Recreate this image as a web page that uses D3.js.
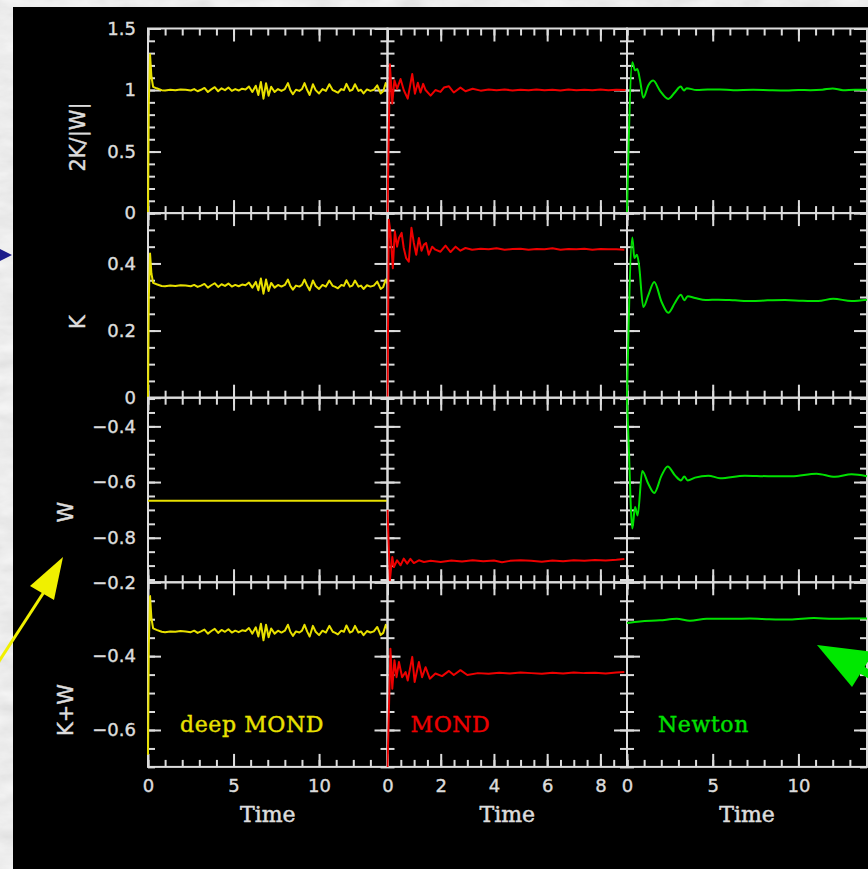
<!doctype html>
<html>
<head>
<meta charset="utf-8">
<script src="https://d3js.org/d3.v7.min.js"></script>
<style>
  body { margin:0; background:#d8d8d8; }
  svg { display:block; }
</style>
</head>
<body>
<svg id="chart" width="868" height="869"></svg>
<script>
// ---- deep MOND (yellow), one time axis shared by its curves
var dmTime = [0, 0.05, 0.12, 0.2, 0.3, 0.5, 0.8, 1.0, 1.3, 1.6, 1.9, 2.2, 2.5, 2.7, 2.9, 3.1, 3.3, 3.5, 3.7, 3.9,
  4.1, 4.3, 4.5, 4.7, 4.9, 5.1, 5.3, 5.5, 5.7, 5.9, 6.1, 6.3, 6.45, 6.6, 6.75, 6.9, 7.05,
  7.2, 7.4, 7.6, 7.8, 8.0, 8.18, 8.32, 8.47, 8.65, 8.85, 9.0, 9.15, 9.3, 9.45, 9.64, 9.8, 10.0, 10.2, 10.4, 10.6,
  10.8, 10.95, 11.1, 11.3, 11.45, 11.6, 11.8, 11.95, 12.1, 12.3, 12.45, 12.6, 12.8, 13.0, 13.2, 13.4, 13.6, 13.75,
  13.9, 14.0];
var dmRatio = [0, 0.90, 1.29, 1.11, 1.026, 1.014, 0.999, 0.996, 1.002, 0.999, 1.005, 1.002, 0.996, 1.008, 0.990,
  1.002, 1.017, 0.984, 1.005, 1.023, 0.990, 1.014, 0.999, 1.020, 0.993, 1.008, 0.996, 1.011, 1.005, 1.029,
  0.984, 1.035, 0.960, 1.065, 0.930, 1.056, 0.954,
  1.026, 0.984, 1.008, 0.993, 1.008, 1.056, 0.999, 0.966, 1.002, 0.993, 1.008, 1.056, 1.002, 0.960, 1.047, 0.999,
  0.972, 1.008, 0.993, 1.047, 0.999, 0.990, 0.978, 1.008, 0.999, 1.050, 0.993, 1.002, 1.047, 0.993, 1.002, 0.972,
  1.005, 0.993, 1.002, 1.038, 0.972, 0.990, 1.056, 1.020];
var dmK = [0, 0.30, 0.43, 0.37, 0.342, 0.338, 0.333, 0.332, 0.334, 0.333, 0.335, 0.334, 0.332, 0.336, 0.330,
  0.334, 0.339, 0.328, 0.335, 0.341, 0.330, 0.338, 0.333, 0.340, 0.331, 0.336, 0.332, 0.337, 0.335, 0.343,
  0.328, 0.345, 0.320, 0.355, 0.310, 0.352, 0.318,
  0.342, 0.328, 0.336, 0.331, 0.336, 0.352, 0.333, 0.322, 0.334, 0.331, 0.336, 0.352, 0.334, 0.320, 0.349, 0.333,
  0.324, 0.336, 0.331, 0.349, 0.333, 0.330, 0.326, 0.336, 0.333, 0.350, 0.331, 0.334, 0.349, 0.331, 0.334, 0.324,
  0.335, 0.331, 0.334, 0.346, 0.324, 0.330, 0.352, 0.340];
var dmWTime = [0, 14];
var dmW = [-0.667, -0.667];
var dmE = [-0.667, -0.367, -0.237, -0.297, -0.325, -0.329, -0.334, -0.335, -0.333, -0.334, -0.332, -0.333, -0.335, -0.331, -0.337,
  -0.333, -0.328, -0.339, -0.332, -0.326, -0.337, -0.329, -0.334, -0.327, -0.336, -0.331, -0.335, -0.330, -0.332, -0.324,
  -0.339, -0.322, -0.347, -0.312, -0.357, -0.315, -0.349,
  -0.325, -0.339, -0.331, -0.336, -0.331, -0.315, -0.334, -0.345, -0.333, -0.336, -0.331, -0.315, -0.333, -0.347,
  -0.318, -0.334, -0.343, -0.331, -0.336, -0.318, -0.334, -0.337, -0.341, -0.331, -0.334, -0.317, -0.336, -0.333,
  -0.318, -0.336, -0.333, -0.343, -0.332, -0.336, -0.333, -0.321, -0.343, -0.337, -0.315, -0.327];

// ---- MOND (red)
var mondRatioT = [0, 0.09, 0.18, 0.26, 0.36, 0.49, 0.61, 0.76, 0.93, 1.03, 1.14, 1.24, 1.34, 1.43, 1.62, 1.80, 1.99, 2.12,
  2.31, 2.49, 2.74, 2.93, 3.2, 3.5, 3.8, 4.1, 4.4, 4.7, 5.0, 5.3, 5.6, 5.9, 6.2, 6.5, 6.8, 7.1, 7.4, 7.7, 8.0, 8.3, 8.6, 8.95];
var mondRatio = [0, 1.21, 0.89, 1.08, 1.01, 1.09, 1.00, 0.93, 1.13, 0.97, 1.06, 0.98, 1.05, 1.00, 0.955, 1.00, 0.985, 1.02,
  1.03, 0.98, 1.02, 0.99, 1.01, 0.995, 1.005, 0.998, 1.004, 0.997, 1.003, 0.999, 1.005, 0.998, 1.002, 0.997, 1.004, 0.999,
  1.003, 0.998, 1.004, 0.999, 1.002, 1.000];
var mondKT = [0, 0.05, 0.1, 0.15, 0.2, 0.275, 0.36, 0.43, 0.53, 0.61, 0.70, 0.80, 0.90, 0.99, 1.08, 1.18, 1.28, 1.37, 1.45,
  1.55, 1.68, 1.80, 1.99, 2.18, 2.37, 2.56, 2.74, 2.93, 3.18, 3.5, 3.8, 4.1, 4.4, 4.7, 5.0, 5.3, 5.6, 5.9, 6.2, 6.5, 6.8,
  7.1, 7.4, 7.7, 8.0, 8.3, 8.6, 8.9];
var mondK = [0, 0.53, 0.50, 0.446, 0.386, 0.496, 0.450, 0.476, 0.491, 0.446, 0.416, 0.405, 0.506, 0.461, 0.426, 0.476,
  0.438, 0.456, 0.461, 0.426, 0.450, 0.441, 0.435, 0.453, 0.434, 0.450, 0.438, 0.446, 0.441, 0.444, 0.442, 0.445, 0.441,
  0.443, 0.444, 0.441, 0.443, 0.442, 0.445, 0.441, 0.443, 0.442, 0.444, 0.441, 0.443, 0.442, 0.442, 0.441];
var mondWT = [0, 0.09, 0.18, 0.24, 0.36, 0.49, 0.61, 0.74, 0.86, 0.99, 1.18, 1.37, 1.62, 2.0, 2.4, 2.8, 3.2, 3.6, 4.0,
  4.3, 4.6, 5.0, 5.4, 5.8, 6.2, 6.6, 7.0, 7.4, 7.8, 8.2, 8.6, 8.9];
var mondW = [-0.70, -0.953, -0.869, -0.905, -0.881, -0.899, -0.875, -0.893, -0.876, -0.891, -0.881, -0.887, -0.883,
  -0.887, -0.882, -0.885, -0.881, -0.884, -0.882, -0.888, -0.883, -0.881, -0.883, -0.886, -0.882, -0.884, -0.881,
  -0.883, -0.880, -0.882, -0.879, -0.876];
var mondET = [0, 0.11, 0.18, 0.26, 0.34, 0.43, 0.55, 0.68, 0.76, 0.93, 1.02, 1.18, 1.30, 1.43, 1.59, 1.80, 2.05, 2.31,
  2.49, 2.74, 3.0, 3.4, 3.8, 4.2, 4.6, 5.0, 5.4, 5.8, 6.2, 6.6, 7.0, 7.4, 7.8, 8.2, 8.6, 8.9];
var mondE = [-0.70, -0.380, -0.488, -0.411, -0.457, -0.416, -0.457, -0.443, -0.466, -0.402, -0.470, -0.416, -0.457,
  -0.430, -0.461, -0.447, -0.454, -0.440, -0.451, -0.438, -0.451, -0.446, -0.448, -0.445, -0.447, -0.444, -0.446,
  -0.448, -0.445, -0.447, -0.444, -0.446, -0.445, -0.447, -0.444, -0.443];

// ---- Newton (green)
var newtRatioT = [0, 0.31, 0.47, 0.60, 0.76, 0.95, 1.24, 1.53, 1.92, 2.41, 2.80, 3.13, 3.32, 3.48, 4.06, 4.7, 5.42,
  6.2, 7.36, 8.3, 9.3, 10.0, 10.7, 11.4, 12.0, 12.6, 13.3, 14.0];
var newtRatio = [0, 1.226, 1.16, 1.17, 1.08, 0.937, 1.037, 1.077, 0.996, 0.928, 0.982, 1.028, 0.996, 1.015, 1.0, 1.004,
  1.005, 0.998, 1.002, 0.999, 0.997, 1.001, 0.999, 1.003, 1.013, 0.999, 1.002, 1.002];
var newtKT = [0, 0.31, 0.43, 0.58, 0.70, 0.95, 1.24, 1.59, 2.02, 2.41, 2.80, 3.15, 3.34, 3.54, 3.97, 4.6, 5.32, 6.3,
  7.27, 8.2, 9.21, 10.2, 11.15, 12.03, 13.1, 14.0];
var newtK = [0, 0.477, 0.416, 0.426, 0.396, 0.270, 0.305, 0.345, 0.285, 0.253, 0.283, 0.307, 0.290, 0.302, 0.297,
  0.291, 0.292, 0.290, 0.288, 0.290, 0.291, 0.289, 0.288, 0.295, 0.288, 0.292];
var newtWT = [0, 0.12, 0.23, 0.31, 0.47, 0.62, 0.89, 1.24, 1.59, 2.02, 2.37, 2.80, 3.15, 3.34, 3.54, 3.97, 4.75, 5.43,
  6.88, 8.24, 9.60, 11.06, 12.13, 13.10, 14.0];
var newtW = [-0.30, -0.50, -0.70, -0.767, -0.690, -0.720, -0.560, -0.606, -0.639, -0.576, -0.544, -0.576, -0.594,
  -0.580, -0.594, -0.584, -0.577, -0.586, -0.577, -0.579, -0.579, -0.570, -0.581, -0.572, -0.579];
var newtET = [0, 0.76, 1.92, 2.9, 3.67, 4.65, 6.2, 7.17, 8.3, 9.5, 10.9, 12.03, 13.0, 14.0];
var newtE = [-0.310, -0.306, -0.303, -0.299, -0.304, -0.299, -0.299, -0.298, -0.300, -0.301, -0.297, -0.299, -0.298, -0.298];

// ---- panel labels and axes
var modelNames = ["deep MOND", "MOND", "Newton"];
var rowTitles = ["2K/|W|", "K", "W", "K+W"];
var timeMax = [14, 9, 14];
var xMajor = [[0, 5, 10], [0, 2, 4, 6, 8], [0, 5, 10]];
var xMinorStep = [1, 0.5, 1];
var rowDomains = [[0, 1.5], [0, 0.55], [-0.96, -0.297], [-0.7, -0.2]];
var yMajor = [[0, 0.5, 1, 1.5], [0, 0.2, 0.4], [-0.4, -0.6, -0.8], [-0.2, -0.4, -0.6]];
var yMinorStep = [0.1, 0.05, 0.05, 0.05];

var series = [
  [[dmTime, dmRatio], [mondRatioT, mondRatio], [newtRatioT, newtRatio]],
  [[dmTime, dmK], [mondKT, mondK], [newtKT, newtK]],
  [[dmWTime, dmW], [mondWT, mondW], [newtWT, newtW]],
  [[dmTime, dmE], [mondET, mondE], [newtET, newtE]]
];

var colors = ["#e8e000", "#ee0000", "#00e000"];
var axisColor = "#dcdcdc";
var colEdges = [148, 387.5, 627, 867];
var rowEdges = [28.5, 213.1, 397.7, 582.3, 766.9];
var titlePos = [[78, 137], [78, 322], [66, 512], [66, 710]];
var legendDx = [32, 23, 31];

var svg = d3.select("#chart");
var defs = svg.append("defs");

// marble slide background
var marble = defs.append("filter").attr("id", "marble")
  .attr("x", 0).attr("y", 0).attr("width", "100%").attr("height", "100%");
marble.append("feTurbulence").attr("type", "fractalNoise")
  .attr("baseFrequency", "0.03 0.07").attr("numOctaves", 4).attr("seed", 7);
marble.append("feColorMatrix").attr("type", "matrix")
  .attr("values", "0.12 0.12 0.12 0 0.66  0.12 0.12 0.12 0 0.66  0.12 0.12 0.12 0 0.66  0 0 0 0 1");
svg.append("rect").attr("width", 868).attr("height", 869).attr("filter", "url(#marble)");
svg.append("rect").attr("x", 13).attr("y", 7).attr("width", 855).attr("height", 862).attr("fill", "#000");

function ticksFrom(lo, hi, step) {
  var out = [];
  var start = Math.ceil(lo / step - 1e-6);
  for (var i = start; i * step <= hi + 1e-9; i++) out.push(+(i * step).toFixed(4));
  return out;
}
function fmt(d) { return d < 0 ? "\u2212" + Math.abs(d) : String(d); }

function styleTicks(sel) {
  sel.select(".domain").remove();
  sel.selectAll(".tick line").attr("stroke", axisColor).attr("stroke-width", 2);
}
function styleLabels(sel) {
  sel.select(".domain").remove();
  sel.attr("font-family", "DejaVu Sans").attr("font-size", 18).attr("color", axisColor);
  sel.selectAll("text").attr("stroke", axisColor).attr("stroke-width", 0.4);
}

rowTitles.forEach(function (title, r) {
  var y = d3.scaleLinear().domain(rowDomains[r]).range([rowEdges[r + 1], rowEdges[r]]);
  var yd = y.domain();
  var yMinor = ticksFrom(Math.min(yd[0], yd[1]), Math.max(yd[0], yd[1]), yMinorStep[r]);
  var yMaj = yMajor[r];

  modelNames.forEach(function (name, c) {
    var x = d3.scaleLinear().domain([0, timeMax[c]]).range([colEdges[c], colEdges[c + 1]]);
    var xMinor = ticksFrom(0, timeMax[c], xMinorStep[c]);
    var xMaj = xMajor[c];
    var left = colEdges[c], right = colEdges[c + 1], top = rowEdges[r], bottom = rowEdges[r + 1];
    var g = svg.append("g");

    // frame
    g.append("rect").attr("x", left).attr("y", top).attr("width", right - left).attr("height", bottom - top)
      .attr("fill", "none").attr("stroke", axisColor).attr("stroke-width", 2);

    // inward ticks on all four sides
    [[xMinor, 7], [xMaj, 13]].forEach(function (p) {
      g.append("g").attr("transform", "translate(0," + bottom + ")")
        .call(d3.axisBottom(x).tickValues(p[0]).tickSize(-p[1]).tickFormat("")).call(styleTicks);
      g.append("g").attr("transform", "translate(0," + top + ")")
        .call(d3.axisTop(x).tickValues(p[0]).tickSize(-p[1]).tickFormat("")).call(styleTicks);
    });
    [[yMinor, 7], [yMaj, 13]].forEach(function (p) {
      g.append("g").attr("transform", "translate(" + left + ",0)")
        .call(d3.axisLeft(y).tickValues(p[0]).tickSize(-p[1]).tickFormat("")).call(styleTicks);
      g.append("g").attr("transform", "translate(" + right + ",0)")
        .call(d3.axisRight(y).tickValues(p[0]).tickSize(-p[1]).tickFormat("")).call(styleTicks);
    });

    // tick labels on the outer panels
    if (c === 0) {
      g.append("g").attr("transform", "translate(" + left + ",0)")
        .call(d3.axisLeft(y).tickValues(yMaj).tickSize(0).tickPadding(12).tickFormat(fmt))
        .call(styleLabels);
    }
    if (r === rowTitles.length - 1) {
      g.append("g").attr("transform", "translate(0," + bottom + ")")
        .call(d3.axisBottom(x).tickValues(xMaj).tickSize(0).tickPadding(12).tickFormat(fmt))
        .call(styleLabels);
      g.append("text").attr("x", (left + right) / 2).attr("y", 822)
        .attr("text-anchor", "middle").attr("font-family", "DejaVu Serif").attr("font-size", 22)
        .attr("fill", axisColor).attr("stroke", axisColor).attr("stroke-width", 0.5).text("Time");
      g.append("text").attr("x", left + legendDx[c]).attr("y", 731.5)
        .attr("font-family", "DejaVu Serif").attr("font-size", 22).attr("letter-spacing", 0.6)
        .attr("fill", colors[c]).attr("stroke", colors[c]).attr("stroke-width", 0.4).text(name);
    }

    // curve
    var clipId = "clip-" + r + "-" + c;
    defs.append("clipPath").attr("id", clipId).append("rect")
      .attr("x", left - 1).attr("y", top - 1).attr("width", right - left + 2).attr("height", bottom - top + 2);
    var s = series[r][c];
    var line = d3.line()
      .x(function (i) { return x(s[0][i]); })
      .y(function (i) { return y(s[1][i]); })
      .curve(c === 2 ? d3.curveMonotoneX : d3.curveLinear);
    g.append("path").datum(d3.range(s[0].length))
      .attr("clip-path", "url(#" + clipId + ")")
      .attr("d", line).attr("fill", "none")
      .attr("stroke", colors[c]).attr("stroke-width", 2).attr("stroke-linejoin", "round");
  });

  svg.append("text")
    .attr("transform", "translate(" + titlePos[r][0] + "," + titlePos[r][1] + ") rotate(-90)")
    .attr("text-anchor", "middle").attr("dominant-baseline", "central")
    .attr("font-family", "DejaVu Sans").attr("font-size", 21).attr("fill", axisColor)
    .attr("stroke", axisColor).attr("stroke-width", 0.4)
    .text(title);
});

// slide arrows around the figure
var arrows = svg.append("g");
arrows.append("path").attr("d", "M0,249 L12,255 L0,261 Z").attr("fill", "#1c1c8c");
arrows.append("line").attr("x1", -6).attr("y1", 669).attr("x2", 44).attr("y2", 592)
  .attr("stroke", "#f0f000").attr("stroke-width", 3);
arrows.append("path").attr("d", "M63,557 L30,586 L54,600 Z").attr("fill", "#f0f000");
arrows.append("line").attr("x1", 862).attr("y1", 670).attr("x2", 900).attr("y2", 693)
  .attr("stroke", "#00e800").attr("stroke-width", 8);
arrows.append("path").attr("d", "M817,645 L874,652 L852,687 Z").attr("fill", "#00e800");
</script>
</body>
</html>
